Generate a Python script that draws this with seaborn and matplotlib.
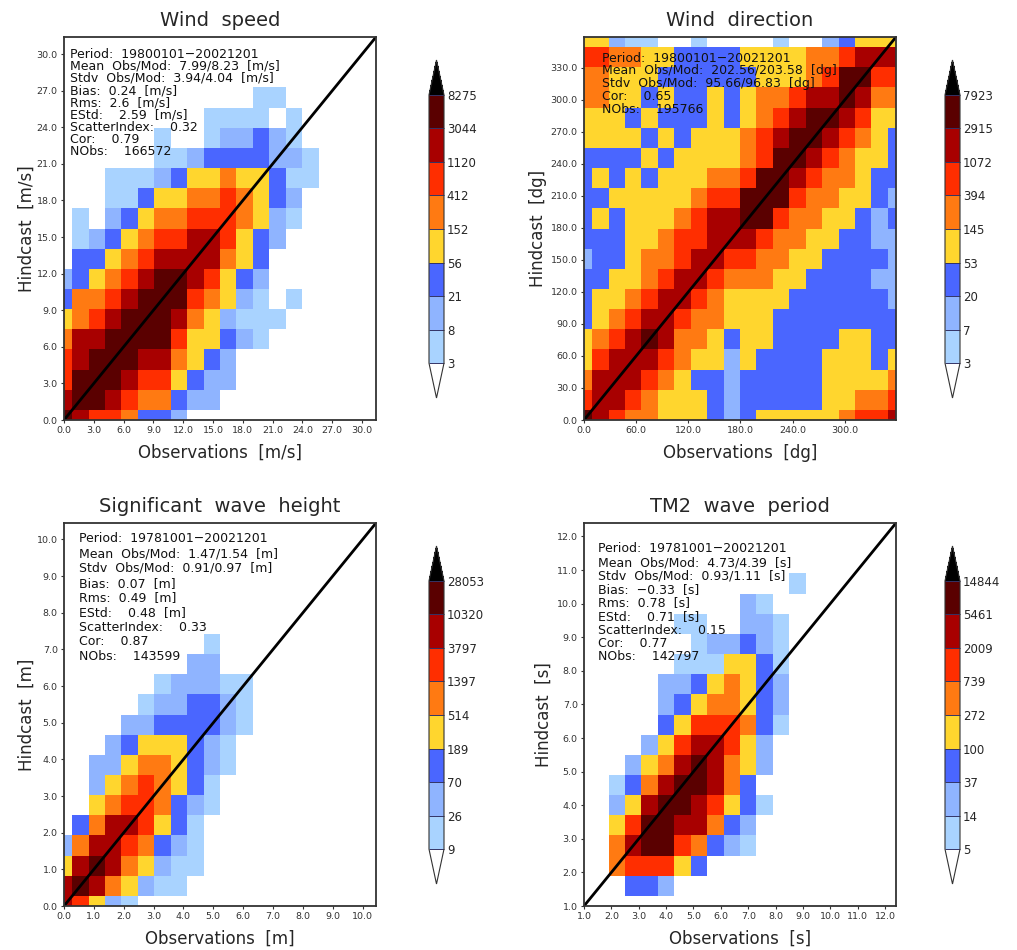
import numpy as np
import matplotlib
matplotlib.use("Agg")
import matplotlib.pyplot as plt
from matplotlib.cm import ScalarMappable
from matplotlib.colors import BoundaryNorm, ListedColormap
import seaborn as sns

# Colour class of every bin (0 = empty, 1..8 = colourbar bands), bottom row first
speed_rows = [
    "87665332",
    "7887655322",
    "68887664322",
    "67888775432",
    "5778888644321",
    "45678887542111",
    "355678886542101",
    "2345678876432",
    "0334567777543",
    "01234566776432",
    "010234556665421",
    "000113445565432",
    "0001112344544311",
    "0000001123333221",
    "000000100122321",
    "000000000111101",
    "00000000000011",
]

direction_rows = [
    "87655444323444445667",
    "67765444323333344556",
    "57776543323333344445",
    "46777654424333344434",
    "45678755434433334433",
    "34567765544433333333",
    "34456776544443333332",
    "33445677655544333322",
    "23345567766554433332",
    "33344566777655443322",
    "34344456778865544323",
    "33444445668886554432",
    "34343444556887655433",
    "33334344445688765443",
    "44443434445678876543",
    "44434333434567887644",
    "55443433434556778755",
    "55444333333444568866",
    "66554433334444556777",
    "44211001000010023444",
]

height_rows = [
    "76421",
    "78754211",
    "478754211",
    "257765321",
    "035776431",
    "0045665321",
    "0024565431",
    "00224554321",
    "00023444321",
    "000022333321",
    "000001223321",
    "000000122211",
    "0000000022",
    "0000000001",
]

period_rows = [
    "",
    "000332",
    "00566643",
    "00578865321",
    "00468877532",
    "002478876431",
    "00135788753",
    "000245787542",
    "000024677642",
    "0000034666531",
    "0000023455432",
    "0000022345432",
    "0000001114431",
    "0000000122321",
    "0000001100221",
    "000000000021",
    "00000000000001",
]

# Panel titles, labels and ranges
titles = ["Wind  speed", "Wind  direction", "Significant  wave  height", "TM2  wave  period"]
x_labels = ["Observations  [m/s]", "Observations  [dg]", "Observations  [m]", "Observations  [s]"]
y_labels = ["Hindcast  [m/s]", "Hindcast  [dg]", "Hindcast  [m]", "Hindcast  [s]"]
axis_start = [0.0, 0.0, 0.0, 1.0]
axis_end = [31.4, 359.0, 10.45, 12.4]
x_ticks = [np.arange(0, 31, 3.0), np.arange(0, 301, 60.0), np.arange(0, 11, 1.0), np.arange(1, 13, 1.0)]
y_ticks = [np.arange(0, 31, 3.0), np.arange(0, 331, 30.0), np.arange(0, 11, 1.0), np.arange(1, 13, 1.0)]

# Colourbar levels
speed_levels = [3, 8, 21, 56, 152, 412, 1120, 3044, 8275]
direction_levels = [3, 7, 20, 53, 145, 394, 1072, 2915, 7923]
height_levels = [9, 26, 70, 189, 514, 1397, 3797, 10320, 28053]
period_levels = [5, 14, 37, 100, 272, 739, 2009, 5461, 14844]

# Statistics printed in each panel
speed_stats = ["Period:  19800101\u221220021201", "Mean  Obs/Mod:  7.99/8.23  [m/s]", "Stdv  Obs/Mod:  3.94/4.04  [m/s]",
               "Bias:  0.24  [m/s]", "Rms:  2.6  [m/s]", "EStd:    2.59  [m/s]", "ScatterIndex:    0.32",
               "Cor:    0.79", "NObs:    166572"]
direction_stats = ["Period:  19800101\u221220021201", "Mean  Obs/Mod:  202.56/203.58  [dg]",
                   "Stdv  Obs/Mod:  95.66/96.83  [dg]", "Cor:    0.65", "NObs:    195766"]
height_stats = ["Period:  19781001\u221220021201", "Mean  Obs/Mod:  1.47/1.54  [m]", "Stdv  Obs/Mod:  0.91/0.97  [m]",
                "Bias:  0.07  [m]", "Rms:  0.49  [m]", "EStd:    0.48  [m]", "ScatterIndex:    0.33",
                "Cor:    0.87", "NObs:    143599"]
period_stats = ["Period:  19781001\u221220021201", "Mean  Obs/Mod:  4.73/4.39  [s]", "Stdv  Obs/Mod:  0.93/1.11  [s]",
                "Bias:  \u22120.33  [s]", "Rms:  0.78  [s]", "EStd:    0.71  [s]", "ScatterIndex:    0.15",
                "Cor:    0.77", "NObs:    142797"]

all_rows = [speed_rows, direction_rows, height_rows, period_rows]
all_levels = [speed_levels, direction_levels, height_levels, period_levels]
all_stats = [speed_stats, direction_stats, height_stats, period_stats]

WIDTH, HEIGHT = 1017, 950
# left, top of each panel in pixels, first stats line and line step
panel_left = [64, 584, 64, 584]
panel_top = [37, 37, 523, 523]
stats_x = [70, 602, 79, 598]
stats_y = [54, 58, 539, 549]
stats_step = [12.2, 12.9, 14.7, 13.5]
ylabel_x = [-0.09, -0.118, -0.09, -0.1]
PANEL_W, PANEL_H = 312, 383
bar_left = [429, 945, 429, 945]
bar_top = [60, 60, 546, 546]

band_colors = ["#A9D3FF", "#8FB4FF", "#4A66FF", "#FFD62E", "#FF7A12", "#FF2E00", "#A80000", "#5A0000"]


def rows_to_grid(rows):
    """Turn the digit strings into a 20x20 array, empty bins padded with 0."""
    padded = [r.ljust(20, "0") for r in rows]
    padded += ["0" * 20] * (20 - len(padded))
    return np.array([[int(c) for c in r] for r in padded])


def pixel_axes(fig, left, top, width, height):
    return fig.add_axes([left / WIDTH, 1 - (top + height) / HEIGHT, width / WIDTH, height / HEIGHT])


sns.set_theme(style="white")
plt.rcParams["font.family"] = ["DejaVu Sans"]
text_color = "#262626"

fig = plt.figure(figsize=(WIDTH / 100, HEIGHT / 100), dpi=100)
cell_cmap = ListedColormap(["white"] + band_colors)

for i in range(4):
    ax = pixel_axes(fig, panel_left[i], panel_top[i], PANEL_W, PANEL_H)
    sns.heatmap(rows_to_grid(all_rows[i]), cmap=cell_cmap, vmin=-0.5, vmax=8.5, cbar=False, ax=ax,
                xticklabels=False, yticklabels=False)

    # bin centres sit on multiples of the step, so the edge bins are cut in half
    step = (axis_end[i] - axis_start[i]) / 19
    ax.set_xlim(0.5, 19.5)
    ax.set_ylim(0.5, 19.5)
    ax.set_xticks((x_ticks[i] - axis_start[i]) / step + 0.5)
    ax.set_xticklabels([f"{v:.1f}" for v in x_ticks[i]])
    ax.set_yticks((y_ticks[i] - axis_start[i]) / step + 0.5)
    ax.set_yticklabels([f"{v:.1f}" for v in y_ticks[i]], rotation=0)
    ax.tick_params(axis="both", length=2.5, width=0.8, pad=2, labelsize=6.8, colors="#333333",
                   left=True, bottom=True)

    ax.plot([0, 1], [0, 1], transform=ax.transAxes, color="black", lw=2)
    for spine in ax.spines.values():
        spine.set_visible(True)
        spine.set_color("#333333")
        spine.set_linewidth(1.3)

    ax.set_title(titles[i], fontsize=14, color=text_color, pad=8)
    ax.set_xlabel(x_labels[i], fontsize=12, color=text_color, labelpad=6)
    ax.set_ylabel(y_labels[i], fontsize=12, color=text_color)
    ax.yaxis.set_label_coords(ylabel_x[i], 0.5)

    for n, line in enumerate(all_stats[i]):
        fig.text(stats_x[i] / WIDTH, 1 - (stats_y[i] + n * stats_step[i]) / HEIGHT, line,
                 fontsize=9, color="#111111", va="center", ha="left")

    # the colourbar axes holds the two end arrows as well as the bands
    cax = pixel_axes(fig, bar_left[i], bar_top[i], 15, 338)
    bar_cmap = ListedColormap(band_colors)
    bar_cmap.set_under("white")
    bar_cmap.set_over("black")
    bar = fig.colorbar(ScalarMappable(norm=BoundaryNorm(all_levels[i], 8), cmap=bar_cmap), cax=cax,
                       extend="both", extendfrac=0.13, spacing="uniform", drawedges=True,
                       ticks=all_levels[i])
    bar.set_ticklabels([str(v) for v in all_levels[i]])
    bar.ax.tick_params(length=0, labelsize=8.5, pad=2, colors=text_color)
    bar.outline.set_edgecolor("#333333")
    bar.outline.set_linewidth(0.8)
    bar.dividers.set_color("#333366")
    bar.dividers.set_linewidth(0.7)

fig.savefig("out.png", dpi=100)
